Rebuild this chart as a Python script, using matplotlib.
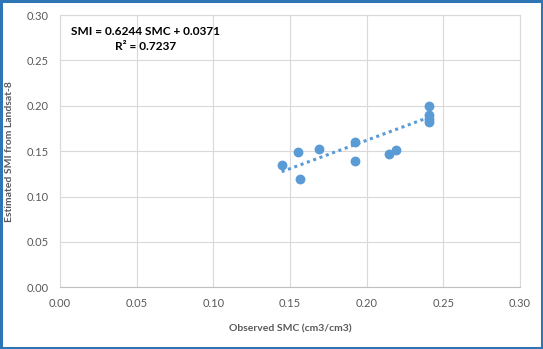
import numpy as np
import matplotlib.pyplot as plt
from matplotlib.patches import Rectangle

# observed SMC vs estimated SMI
smc = [0.1446, 0.1550, 0.1565, 0.1687, 0.1926, 0.1926, 0.2146, 0.2193, 0.2407, 0.2407, 0.2407, 0.2407]
smi = [0.1347, 0.1494, 0.1197, 0.1527, 0.1597, 0.1395, 0.1472, 0.1513, 0.1997, 0.1898, 0.1860, 0.1818]
slope = 0.6244
intercept = 0.0371
ticks = [0.00, 0.05, 0.10, 0.15, 0.20, 0.25, 0.30]

blue = "#5B9BD5"
grey = "#595959"
plt.rcParams['font.family'] = ['Lato', 'DejaVu Sans']

fig = plt.figure(figsize=(5.43, 3.49), dpi=100)
fig.patches.append(Rectangle((0.002, 0.003), 0.996, 0.994, transform=fig.transFigure,
                             fill=False, edgecolor="#2E75B6", linewidth=2.2))
ax = fig.add_axes([0.1105, 0.1768, 0.847, 0.780])

ax.scatter(smc, smi, s=50, color=blue, zorder=3, linewidths=0)
xl = np.array([min(smc), max(smc)])
ax.plot(xl, slope * xl + intercept, color=blue, linestyle=(0, (1, 1.2)), linewidth=2.2, zorder=2)

ax.set_xlim(0, 0.30)
ax.set_ylim(0, 0.30)
ax.set_xticks(ticks)
ax.set_yticks(ticks)
ax.set_xticklabels([f"{t:.2f}" for t in ticks])
ax.set_yticklabels([f"{t:.2f}" for t in ticks])
ax.tick_params(length=0, labelsize=8, colors=grey, pad=8)
ax.grid(True, color="#d9d9d9", linewidth=0.8)
ax.set_axisbelow(True)
for s in ax.spines.values():
    s.set_color("#d9d9d9")
    s.set_linewidth(0.8)
ax.spines['bottom'].set_color("#bfbfbf")

ax.set_xlabel("Observed SMC (cm3/cm3)", fontsize=7.5, color=grey, fontweight='bold', labelpad=11)
ax.set_ylabel("Estimated SMI from Landsat-8", fontsize=7.5, color=grey, fontweight='bold', labelpad=9)

ax.text(0.0555, 0.2735, "SMI = 0.6244 SMC + 0.0371\nR\u00b2 = 0.7237", fontsize=8.6,
        fontweight='bold', ha='center', va='center', multialignment='center', linespacing=1.45)

fig.savefig("out.png", dpi=100)
